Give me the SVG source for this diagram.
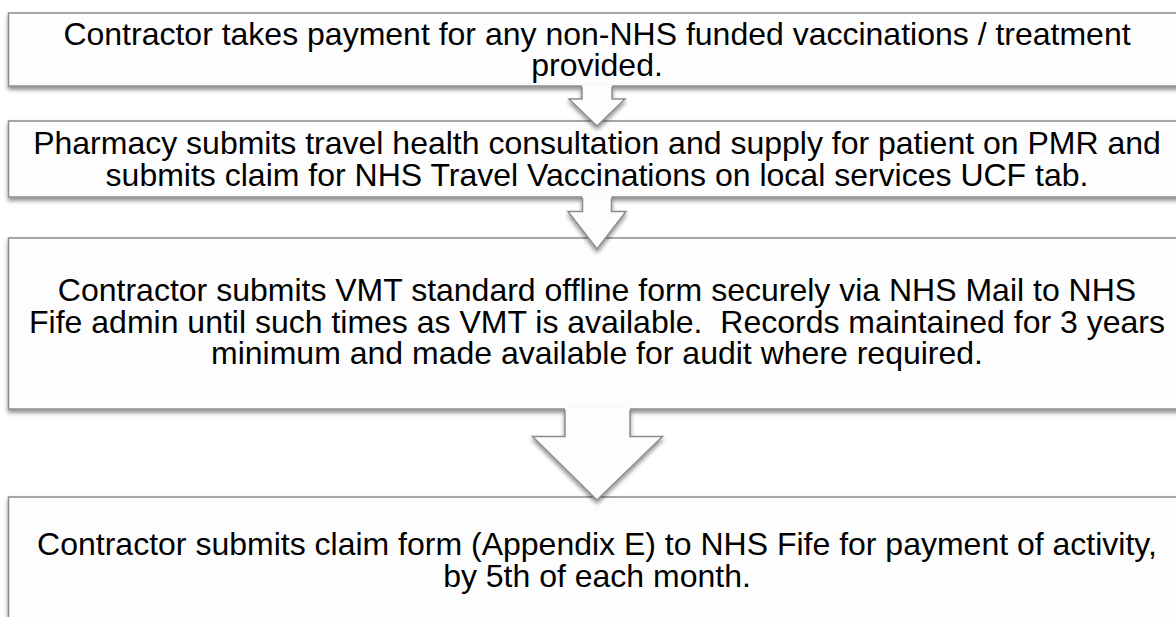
<svg xmlns="http://www.w3.org/2000/svg" width="1176" height="617" viewBox="0 0 1176 617">
  <defs>
    <filter id="shadow" x="-5%" y="-20%" width="110%" height="150%">
      <feDropShadow dx="0" dy="3" stdDeviation="2" flood-color="#000" flood-opacity="0.45"/>
    </filter>
    <style>
      .box { fill: #fdfdfd; stroke: #8c8c8c; stroke-width: 1.5; filter: url(#shadow); }
      .arrow-fill { fill: #fdfdfd; stroke: none; }
      .arrow-edge { fill: none; stroke: #8c8c8c; stroke-width: 1.5; stroke-linejoin: miter; }
      .arrow { filter: url(#shadow); }
      .label { font-family: "Liberation Sans", Arial, sans-serif; font-size: 32px; fill: #000; text-anchor: middle; white-space: pre; }
    </style>
  </defs>
  <rect width="1176" height="617" fill="#ffffff"/>

  <!-- process steps -->
  <g id="step1">
    <rect class="box" x="8.5" y="13" width="1180" height="73"/>
    <text class="label" x="597" y="44.5">Contractor takes payment for any non-NHS funded vaccinations / treatment</text>
    <text class="label" x="597" y="75.5">provided.</text>
  </g>
  <g id="step2">
    <rect class="box" x="8.5" y="121" width="1180" height="76"/>
    <text class="label" x="597" y="154">Pharmacy submits travel health consultation and supply for patient on PMR and</text>
    <text class="label" x="597" y="185.5">submits claim for NHS Travel Vaccinations on local services UCF tab.</text>
  </g>
  <g id="step3">
    <rect class="box" x="8.5" y="238" width="1180" height="171"/>
    <text class="label" x="597" y="301">Contractor submits VMT standard offline form securely via NHS Mail to NHS</text>
    <text class="label" x="597" y="332.5">Fife admin until such times as VMT is available.  Records maintained for 3 years</text>
    <text class="label" x="597" y="364">minimum and made available for audit where required.</text>
  </g>
  <g id="step4">
    <rect class="box" x="8.5" y="497" width="1180" height="140"/>
    <text class="label" x="597" y="555">Contractor submits claim form (Appendix E) to NHS Fife for payment of activity,</text>
    <text class="label" x="597" y="586.5">by 5th of each month.</text>
  </g>

  <!-- connectors: open-topped down arrows between steps -->
  <g id="connectors">
    <g id="arrow1" class="arrow">
      <path class="arrow-fill" d="M582,85 V99 H569 L597,126 L625,99 H612 V85 Z"/>
      <path class="arrow-edge" d="M582,87 V99 H569 L597,126 L625,99 H612 V87"/>
    </g>
    <g id="arrow2" class="arrow">
      <path class="arrow-fill" d="M582.5,196 V211.5 H568 L597,249 L626,211.5 H611.5 V196 Z"/>
      <path class="arrow-edge" d="M582.5,198 V211.5 H568 L597,249 L626,211.5 H611.5 V198"/>
    </g>
    <g id="arrow3" class="arrow">
      <path class="arrow-fill" d="M565,408 V436.5 H532.5 L597,500 L662.5,436.5 H630 V408 Z"/>
      <path class="arrow-edge" d="M565,410 V436.5 H532.5 L597,500 L662.5,436.5 H630 V410"/>
    </g>
  </g>
</svg>
